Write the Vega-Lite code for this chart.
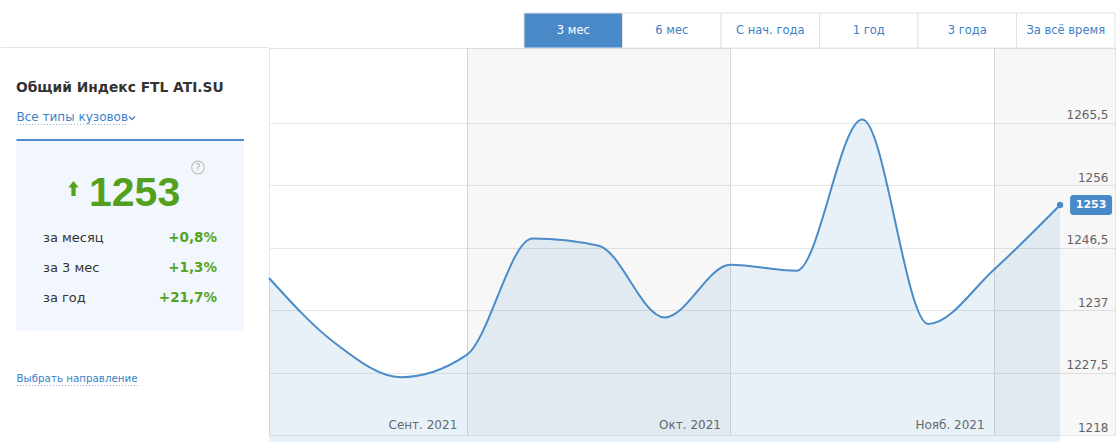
{
  "$schema": "https://vega.github.io/schema/vega-lite/v6.json",
  "padding": 0,
  "spacing": 0,
  "bounds": "flush",
  "background": "white",
  "config": {
    "view": {"stroke": null},
    "text": {"font": "DejaVu Sans"},
    "axis": {"labelFont": "DejaVu Sans"}
  },
  "datasets": {
    "series": [
      {"date": "2021-08-16", "value": 1241.9},
      {"date": "2021-08-23", "value": 1232.0},
      {"date": "2021-08-30", "value": 1226.8},
      {"date": "2021-09-06", "value": 1230.2},
      {"date": "2021-09-13", "value": 1247.9},
      {"date": "2021-09-20", "value": 1246.8},
      {"date": "2021-09-27", "value": 1235.9},
      {"date": "2021-10-04", "value": 1243.9},
      {"date": "2021-10-11", "value": 1243.0},
      {"date": "2021-10-18", "value": 1266.0},
      {"date": "2021-10-25", "value": 1234.9},
      {"date": "2021-11-01", "value": 1243.2},
      {"date": "2021-11-08", "value": 1253}
    ],
    "bands": [
      {"start": "2021-09-06", "end": "2021-10-04"},
      {"start": "2021-11-01", "end": "2021-11-20"}
    ],
    "tabs": [
      {"tab": "3 мес", "selected": true},
      {"tab": "6 мес", "selected": false},
      {"tab": "С нач. года", "selected": false},
      {"tab": "1 год", "selected": false},
      {"tab": "3 года", "selected": false},
      {"tab": "За всё время", "selected": false}
    ],
    "stats": [
      {"period": "за месяц", "change": "+0,8%"},
      {"period": "за 3 мес", "change": "+1,3%"},
      {"period": "за год", "change": "+21,7%"}
    ]
  },
  "hconcat": [
    {
      "width": 268,
      "height": 442,
      "view": {"stroke": null},
      "layer": [
        {
          "data": {"values": [{"k": 1}]},
          "mark": {"type": "rule", "color": "#e3e3e3", "strokeWidth": 1},
          "encoding": {"y": {"value": 47.5}}
        },
        {
          "data": {"values": [{"t": "Общий Индекс FTL ATI.SU"}]},
          "mark": {"type": "text", "align": "left", "baseline": "alphabetic", "fontWeight": "bold", "fontSize": 13.8, "color": "#333333"},
          "encoding": {"text": {"field": "t"}, "x": {"value": 15}, "y": {"value": 92}}
        },
        {
          "data": {"values": [{"t": "Все типы кузовов"}]},
          "mark": {"type": "text", "align": "left", "baseline": "alphabetic", "fontSize": 12, "color": "#3d80c6"},
          "encoding": {"text": {"field": "t"}, "x": {"value": 15.5}, "y": {"value": 121}}
        },
        {
          "data": {"values": [{"k": 1}]},
          "mark": {"type": "point", "shape": "M-1,-0.5L0,0.5L1,-0.5", "filled": false, "stroke": "#3d80c6", "strokeWidth": 1.3, "size": 36, "opacity": 1},
          "encoding": {"x": {"value": 131}, "y": {"value": 118}}
        },
        {
          "data": {"values": [{"k": 1}]},
          "mark": {"type": "rule", "color": "#8fb4dc", "strokeDash": [1, 2], "strokeWidth": 1},
          "encoding": {"x": {"value": 16}, "x2": {"value": 127}, "y": {"value": 124.5}}
        },
        {
          "data": {"values": [{"k": 1}]},
          "mark": {"type": "rect", "fill": "#f2f7fd", "cornerRadius": 3},
          "encoding": {"x": {"value": 15.5}, "x2": {"value": 243}, "y": {"value": 140}, "y2": {"value": 331}}
        },
        {
          "data": {"values": [{"k": 1}]},
          "mark": {"type": "rule", "color": "#4a8bc8", "strokeWidth": 2},
          "encoding": {"x": {"value": 15.5}, "x2": {"value": 243}, "y": {"value": 140}}
        },
        {
          "data": {"values": [{"k": 1}]},
          "mark": {"type": "point", "shape": "circle", "filled": false, "stroke": "#c2c2c2", "strokeWidth": 1.2, "size": 160, "opacity": 1},
          "encoding": {"x": {"value": 197}, "y": {"value": 167.5}}
        },
        {
          "data": {"values": [{"t": "?"}]},
          "mark": {"type": "text", "align": "center", "baseline": "middle", "fontSize": 10, "color": "#b5b5b5"},
          "encoding": {"text": {"field": "t"}, "x": {"value": 197}, "y": {"value": 168}}
        },
        {
          "data": {"values": [{"k": 1}]},
          "mark": {"type": "point", "shape": "M0,-1L0.68,-0.15L0.28,-0.15L0.28,1L-0.28,1L-0.28,-0.15L-0.68,-0.15Z", "filled": true, "fill": "#52a01c", "stroke": null, "size": 225, "opacity": 1},
          "encoding": {"x": {"value": 72.5}, "y": {"value": 188.5}}
        },
        {
          "data": {"values": [{"t": "1253"}]},
          "mark": {"type": "text", "align": "left", "baseline": "alphabetic", "font": "Liberation Sans", "fontWeight": "bold", "fontSize": 41, "color": "#52a01c"},
          "encoding": {"text": {"field": "t"}, "x": {"value": 88}, "y": {"value": 205.5}}
        },
        {
          "data": {"name": "stats"},
          "mark": {"type": "text", "align": "left", "baseline": "alphabetic", "fontSize": 13, "color": "#333333"},
          "encoding": {
            "text": {"field": "period"},
            "x": {"value": 42},
            "y": {"field": "period", "type": "ordinal", "sort": null, "scale": {"type": "point", "range": [242, 302], "padding": 0}, "axis": null}
          }
        },
        {
          "data": {"name": "stats"},
          "mark": {"type": "text", "align": "right", "baseline": "alphabetic", "fontSize": 13.5, "fontWeight": "bold", "color": "#55a31f"},
          "encoding": {
            "text": {"field": "change"},
            "x": {"value": 216},
            "y": {"field": "period", "type": "ordinal", "sort": null, "axis": null}
          }
        },
        {
          "data": {"values": [{"t": "Выбрать направление"}]},
          "mark": {"type": "text", "align": "left", "baseline": "alphabetic", "fontSize": 10.3, "color": "#3d80c6"},
          "encoding": {"text": {"field": "t"}, "x": {"value": 15.5}, "y": {"value": 382}}
        },
        {
          "data": {"values": [{"k": 1}]},
          "mark": {"type": "rule", "color": "#8fb4dc", "strokeDash": [1, 2], "strokeWidth": 1},
          "encoding": {"x": {"value": 16}, "x2": {"value": 138}, "y": {"value": 385.5}}
        }
      ]
    },
    {
      "spacing": 0,
      "bounds": "flush",
      "vconcat": [
        {
          "width": 852,
          "height": 48,
          "view": {"stroke": null},
          "data": {"name": "tabs"},
          "layer": [
            {
              "mark": {"type": "rect", "stroke": "#e2e2e2", "strokeWidth": 1},
              "encoding": {
                "x": {"field": "tab", "type": "nominal", "sort": null, "scale": {"type": "band", "range": [255, 846], "paddingInner": 0, "paddingOuter": 0}, "axis": null},
                "y": {"datum": "tabs", "type": "nominal", "scale": {"type": "band", "range": [13, 48], "paddingInner": 0, "paddingOuter": 0}, "axis": null},
                "fill": {"condition": {"test": "datum.selected", "value": "#4a89c8"}, "value": "#ffffff"}
              }
            },
            {
              "mark": {"type": "text", "align": "center", "baseline": "middle", "fontSize": 11.5},
              "encoding": {
                "text": {"field": "tab"},
                "x": {"field": "tab", "type": "nominal", "sort": null, "axis": null},
                "y": {"datum": "tabs", "type": "nominal", "axis": null},
                "color": {"condition": {"test": "datum.selected", "value": "#ffffff"}, "value": "#3d80c6"}
              }
            }
          ]
        },
        {
          "width": 846,
          "height": 387,
          "view": {"stroke": "#e3e3e3", "fill": "#ffffff"},
          "layer": [
            {
              "data": {"name": "bands"},
              "mark": {"type": "rect", "fill": "#000000", "opacity": 0.03, "clip": true},
              "encoding": {
                "x": {
                  "field": "start", "type": "temporal",
                  "scale": {"type": "utc", "nice": false, "domain": [{"year": 2021, "month": 8, "date": 16, "utc": true}, {"year": 2021, "month": 11, "date": 13, "hours": 20, "utc": true}]},
                  "axis": {
                    "title": null,
                    "values": [{"year": 2021, "month": 9, "date": 6, "utc": true}, {"year": 2021, "month": 10, "date": 4, "utc": true}, {"year": 2021, "month": 11, "date": 1, "utc": true}],
                    "labelExpr": "['Янв.','Февр.','Март','Апр.','Май','Июнь','Июль','Авг.','Сент.','Окт.','Нояб.','Дек.'][utcmonth(datum.value)] + ' ' + utcyear(datum.value)",
                    "grid": true, "gridColor": "#dcdcdc", "gridWidth": 1,
                    "domain": false, "ticks": false, "tickSize": 0,
                    "labelAlign": "right", "labelBaseline": "alphabetic", "labelPadding": -7, "labelOffset": -10,
                    "labelFontSize": 12, "labelColor": "#666666", "labelFlush": false, "labelOverlap": false
                  }
                },
                "x2": {"field": "end"}
              }
            },
            {
              "data": {"name": "series"},
              "mark": {"type": "area", "interpolate": "monotone", "color": "#4a8bc8", "opacity": 0.12},
              "encoding": {
                "x": {"field": "date", "type": "temporal"},
                "y": {
                  "field": "value", "type": "quantitative",
                  "scale": {"domain": [1218, 1276.9], "zero": false, "nice": false},
                  "axis": {
                    "title": null, "orient": "right",
                    "values": [1218, 1227.5, 1237, 1246.5, 1256, 1265.5],
                    "labelExpr": "replace(format(datum.value, '.1~f'), '.', ',')",
                    "grid": true, "gridColor": "#e6e6e6", "gridWidth": 1,
                    "domain": false, "ticks": false, "tickSize": 0,
                    "labelAlign": "right", "labelBaseline": "alphabetic", "labelPadding": -7, "labelOffset": -4,
                    "labelFontSize": 12, "labelColor": "#666666", "labelFlush": false, "labelOverlap": false
                  }
                }
              }
            },
            {
              "data": {"name": "series"},
              "mark": {"type": "line", "interpolate": "monotone", "color": "#4a8bc8", "strokeWidth": 2},
              "encoding": {
                "x": {"field": "date", "type": "temporal"},
                "y": {"field": "value", "type": "quantitative"}
              }
            },
            {
              "data": {"name": "series"},
              "transform": [
                {"window": [{"op": "row_number", "as": "rn"}], "sort": [{"field": "date", "order": "descending"}]},
                {"filter": "datum.rn == 1"}
              ],
              "mark": {"type": "point", "filled": true, "color": "#4a8bc8", "size": 40, "opacity": 1},
              "encoding": {
                "x": {"field": "date", "type": "temporal"},
                "y": {"field": "value", "type": "quantitative"}
              }
            },
            {
              "data": {"name": "series"},
              "transform": [
                {"window": [{"op": "row_number", "as": "rn"}], "sort": [{"field": "date", "order": "descending"}]},
                {"filter": "datum.rn == 1"}
              ],
              "mark": {"type": "rect", "fill": "#4a89c8", "cornerRadius": 3, "xOffset": 10, "x2Offset": 52, "yOffset": -10, "y2Offset": 10},
              "encoding": {
                "x": {"field": "date", "type": "temporal"},
                "x2": {"field": "date"},
                "y": {"field": "value", "type": "quantitative"},
                "y2": {"field": "value"}
              }
            },
            {
              "data": {"name": "series"},
              "transform": [
                {"window": [{"op": "row_number", "as": "rn"}], "sort": [{"field": "date", "order": "descending"}]},
                {"filter": "datum.rn == 1"}
              ],
              "mark": {"type": "text", "align": "center", "baseline": "middle", "dx": 31, "fontSize": 11, "fontWeight": "bold", "color": "#ffffff"},
              "encoding": {
                "x": {"field": "date", "type": "temporal"},
                "y": {"field": "value", "type": "quantitative"},
                "text": {"field": "value", "type": "quantitative", "format": "d"}
              }
            }
          ]
        }
      ]
    }
  ]
}
